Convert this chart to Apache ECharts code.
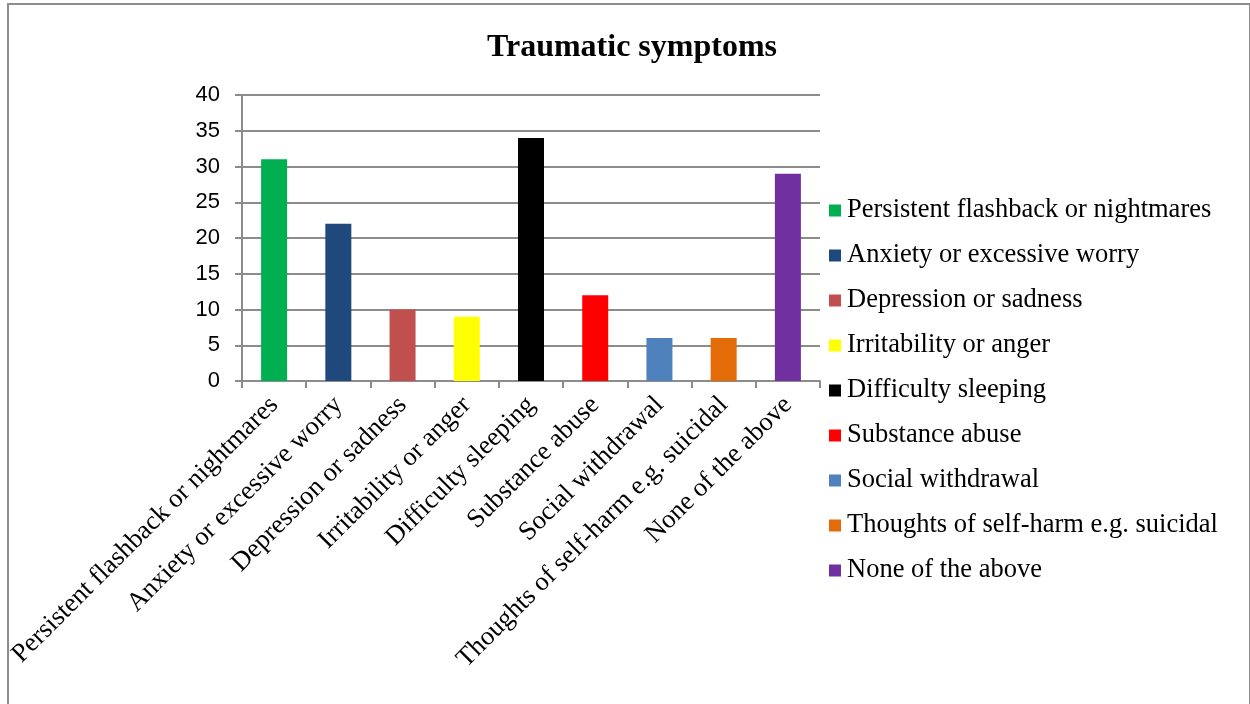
<!DOCTYPE html>
<html>
<head>
<meta charset="utf-8">
<script src="https://cdn.jsdelivr.net/npm/echarts@6/dist/echarts.min.js"></script>
<style>
    html, body { margin: 0; padding: 0; background: #fff; }
    #frame {
        position: absolute; left: 7px; top: 3px; width: 1240px; height: 701px;
        border-top: 2px solid #8c8c8c; border-left: 2px solid #8c8c8c; border-right: 2px solid #8c8c8c;
    }
    #chart { position: absolute; left: 0; top: 0; width: 1250px; height: 704px; }
</style>
</head>
<body>
<div id="frame"></div>
<div id="chart"></div>
<script>
    // categories and counts
    const categories = [
        'Persistent flashback or nightmares',
        'Anxiety or excessive worry',
        'Depression or sadness',
        'Irritability or anger',
        'Difficulty sleeping',
        'Substance abuse',
        'Social withdrawal',
        'Thoughts of self-harm e.g. suicidal',
        'None of the above'
    ];
    const counts = [31, 22, 10, 9, 34, 12, 6, 6, 29];
    const barColors = ['#00b050', '#1f497d', '#c0504d', '#ffff00', '#000000', '#ff0000', '#4f81bd', '#e36c09', '#7030a0'];
    const yTicks = { min: 0, max: 40, step: 5 };

    // one series per category so each gets its own legend entry
    let series = categories.map((name, i) => ({
        name: name,
        type: 'bar',
        barWidth: 26,
        barGap: '-100%',
        itemStyle: { color: barColors[i] },
        data: categories.map((c, j) => (j === i ? counts[i] : '-'))
    }));

    let myChart = echarts.init(document.getElementById('chart'));
    let option = {
        animation: false,
        title: {
            text: 'Traumatic symptoms',
            left: 627,
            textAlign: 'center',
            top: 27,
            textStyle: { fontFamily: 'Liberation Serif', fontWeight: 'bold', fontSize: 32, color: '#000' }
        },
        legend: {
            orient: 'vertical',
            left: 824,
            top: 192,
            itemWidth: 12,
            itemHeight: 12,
            itemGap: 18,
            icon: 'rect',
            textStyle: { fontFamily: 'Liberation Serif', fontSize: 26.5, color: '#000', padding: [0, 0, 0, 1] },
            data: categories
        },
        grid: { left: 242, right: 430, top: 95, bottom: 323, containLabel: false },
        xAxis: {
            type: 'category',
            data: categories,
            axisLine: { lineStyle: { color: '#8c8c8c', width: 2 } },
            axisTick: { show: true, length: 7, lineStyle: { color: '#8c8c8c', width: 2 } },
            axisLabel: {
                interval: 0,
                rotate: 45,
                margin: 20,
                fontFamily: 'Liberation Serif',
                fontSize: 26.5,
                color: '#000'
            }
        },
        yAxis: {
            type: 'value',
            min: yTicks.min,
            max: yTicks.max,
            interval: yTicks.step,
            axisLine: { show: true, lineStyle: { color: '#8c8c8c', width: 2 } },
            axisTick: { show: true, length: 7, lineStyle: { color: '#8c8c8c', width: 2 } },
            splitLine: { lineStyle: { color: '#8c8c8c', width: 2 } },
            axisLabel: { fontFamily: 'Liberation Sans', fontSize: 22, color: '#000', margin: 22 }
        },
        series: series
    };
    myChart.setOption(option);
</script>
</body>
</html>
